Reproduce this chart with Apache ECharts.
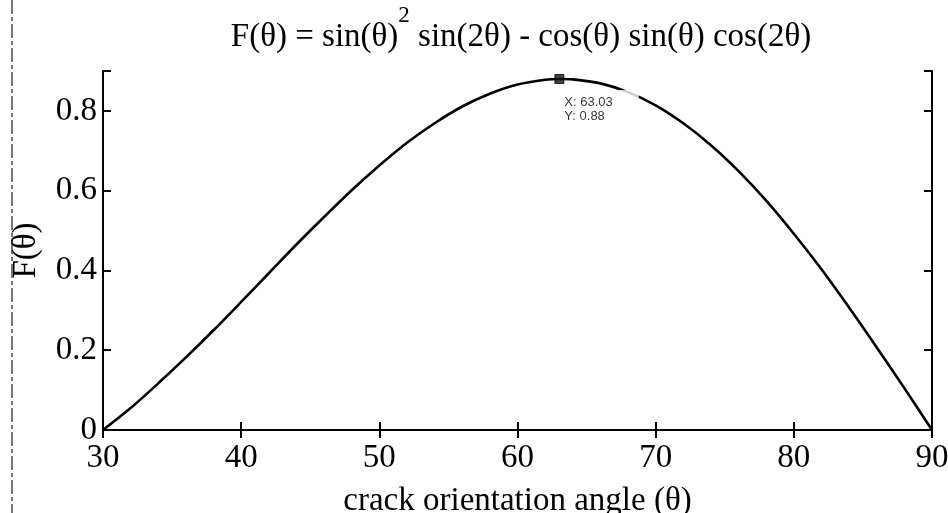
<!DOCTYPE html>
<html>
<head>
<meta charset="utf-8">
<script src="https://cdn.jsdelivr.net/npm/echarts@6/dist/echarts.min.js"></script>
<style>
  html, body { margin: 0; padding: 0; background: #fff; }
  #chart { width: 948px; height: 513px; }
</style>
</head>
<body>
<div id="chart"></div>
<script>
// crack orientation angle (degrees)
const angles = [30, 32, 34, 36, 38, 40, 42, 44, 46, 48, 50, 52, 54, 56, 58, 60, 62, 63.03,
                64, 66, 68, 70, 72, 74, 76, 78, 80, 82, 84, 86, 88, 90];
// F(θ) values along the curve
const fValues = [0, 0.055, 0.117, 0.182, 0.25, 0.321, 0.393, 0.465, 0.534, 0.601, 0.663, 0.72, 0.769, 0.811, 0.843, 0.866, 0.878, 0.88,
                 0.879, 0.869, 0.847, 0.814, 0.769, 0.714, 0.649, 0.575, 0.492, 0.403, 0.307, 0.207, 0.105, 0];
// data tip at the maximum
const tipAngle = [63.03];
const tipValue = [0.88];
// axis ticks
const xTicks = [30, 40, 50, 60, 70, 80, 90];
const yTicks = [0, 0.2, 0.4, 0.6, 0.8];

const serif = '"Liberation Serif", "Times New Roman", serif';
const curve = angles.map((a, i) => [a, fValues[i]]);
const tip = tipAngle.map((a, i) => [a, tipValue[i]]);

const axisLine = { show: true, lineStyle: { color: '#000', width: 2 } };
const tickIn = { show: true, inside: true, length: 8, lineStyle: { color: '#000', width: 2 } };

const chart = echarts.init(document.getElementById('chart'), null, { renderer: 'canvas' });
chart.setOption({
  animation: false,
  backgroundColor: '#fff',
  title: {
    text: '{a|F(θ) = sin(θ)}{s|2}{a| sin(2θ) - cos(θ) sin(θ) cos(2θ)}',
    left: 521, textAlign: 'center', top: 4, padding: 0,
    textStyle: {
      fontWeight: 'normal',
      rich: {
        a: { fontFamily: serif, fontSize: 33, fontWeight: 'normal', color: '#000', lineHeight: 50, verticalAlign: 'bottom' },
        s: { fontFamily: serif, fontSize: 23, fontWeight: 'normal', color: '#000', lineHeight: 32, verticalAlign: 'top' }
      }
    }
  },
  grid: { left: 103, right: 16, top: 71, bottom: 83, outerBoundsMode: 'none', containLabel: false },
  xAxis: [{
    type: 'value', min: xTicks[0], max: xTicks[xTicks.length - 1], interval: 10,
    position: 'bottom',
    name: 'crack orientation angle (θ)', nameLocation: 'middle', nameGap: 55,
    nameTextStyle: { fontFamily: serif, fontSize: 33, color: '#000' },
    axisLine, axisTick: tickIn,
    axisLabel: { fontFamily: serif, fontSize: 33, color: '#000', margin: 12 },
    splitLine: { show: false }
  }, {
    type: 'value', min: xTicks[0], max: xTicks[xTicks.length - 1], interval: 10,
    position: 'top', axisLine, axisTick: tickIn,
    axisLabel: { show: false }, splitLine: { show: false }
  }],
  yAxis: [{
    type: 'value', min: 0, max: 0.9, interval: 0.2,
    position: 'left',
    name: 'F(θ)', nameLocation: 'middle', nameGap: 60, nameRotate: 90,
    nameTextStyle: { fontFamily: serif, fontSize: 33, color: '#000' },
    axisLine, axisTick: tickIn,
    axisLabel: {
      fontFamily: serif, fontSize: 33, color: '#000', margin: 6,
      formatter: v => (yTicks.some(t => Math.abs(t - v) < 1e-9) ? String(+v.toFixed(1)) : '')
    },
    splitLine: { show: false }
  }, {
    type: 'value', min: 0, max: 0.9, interval: 0.2,
    position: 'right', axisLine, axisTick: tickIn,
    axisLabel: { show: false }, splitLine: { show: false }
  }],
  graphic: [{
    type: 'line', z: 0,
    shape: { x1: 12, y1: 0, x2: 12, y2: 513 },
    style: { stroke: '#777', lineWidth: 2, lineDash: [14, 3, 4, 3] }
  }],
  series: [{
    type: 'line', data: curve, showSymbol: false, smooth: 0.3,
    lineStyle: { color: '#000', width: 2.6 }, z: 2
  }, {
    type: 'scatter', data: tip, symbol: 'rect', symbolSize: 9, z: 5,
    itemStyle: { color: '#111', borderColor: '#000', borderWidth: 1 },
    label: {
      show: true, position: [8, 16],
      formatter: p => 'X: ' + p.value[0].toFixed(2) + '\nY: ' + p.value[1].toFixed(2),
      fontFamily: '"Liberation Sans", Arial, sans-serif', fontSize: 13, lineHeight: 14,
      color: '#000', backgroundColor: '#fff', padding: [5, 26, 3, 2]
    }
  }]
});
</script>
</body>
</html>
